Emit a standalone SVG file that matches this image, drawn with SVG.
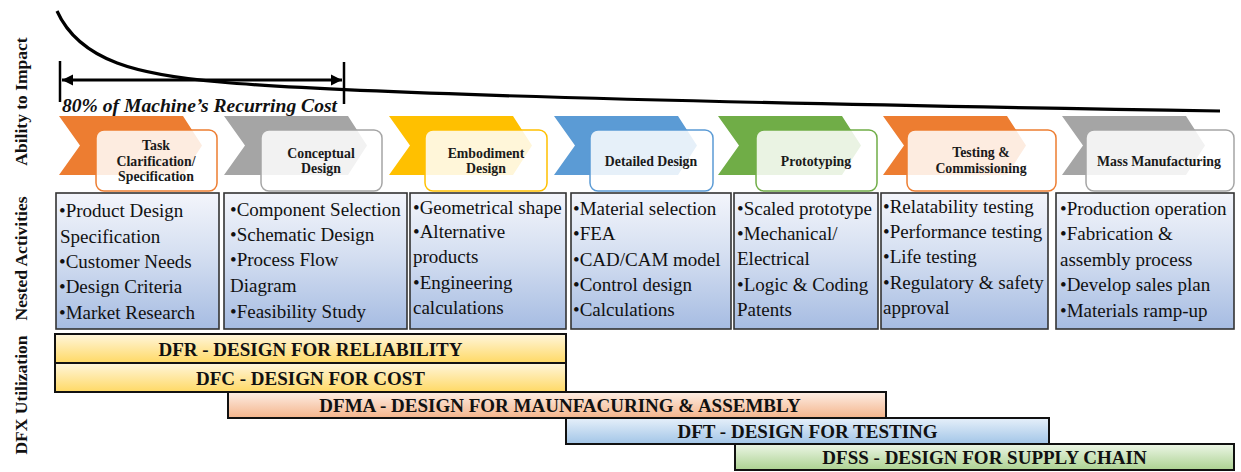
<svg xmlns="http://www.w3.org/2000/svg" width="1241" height="472" viewBox="0 0 1241 472">
  <style>
    .axis { font-family: "Liberation Serif", "Times New Roman", serif; font-weight: bold; font-size: 17.5px; fill: #111; }
    .stage { font-family: "Liberation Serif", "Times New Roman", serif; font-weight: bold; font-size: 13.8px; fill: #1a1a1a; text-anchor: middle; }
    .act { font-family: "Liberation Serif", "Times New Roman", serif; font-size: 19px; fill: #111; }
    .bar { font-family: "Liberation Serif", "Times New Roman", serif; font-weight: bold; font-size: 19px; fill: #111; text-anchor: middle; }
    .cost { font-family: "Liberation Serif", "Times New Roman", serif; font-weight: bold; font-style: italic; font-size: 19.6px; fill: #111; }
    .card { fill: #ffffff; fill-opacity: 0.85; stroke-width: 1.5; }
    .actbox { fill: url(#actGrad); stroke: #333333; stroke-width: 1.6; }
    .dfx { stroke: #111; stroke-width: 2; }
  </style>
  <defs>
    <linearGradient id="actGrad" x1="0" y1="0" x2="0" y2="1">
      <stop offset="0" stop-color="#f3f5fb"/>
      <stop offset="0.45" stop-color="#d5dff1"/>
      <stop offset="1" stop-color="#a6bce2"/>
    </linearGradient>
    <linearGradient id="gYellow" x1="0" y1="0" x2="0" y2="1">
      <stop offset="0" stop-color="#fff6dc"/>
      <stop offset="1" stop-color="#ffd965"/>
    </linearGradient>
    <linearGradient id="gOrange" x1="0" y1="0" x2="0" y2="1">
      <stop offset="0" stop-color="#fdeee5"/>
      <stop offset="1" stop-color="#f4b48a"/>
    </linearGradient>
    <linearGradient id="gBlue" x1="0" y1="0" x2="0" y2="1">
      <stop offset="0" stop-color="#e6f0fa"/>
      <stop offset="1" stop-color="#a2c5e7"/>
    </linearGradient>
    <linearGradient id="gGreen" x1="0" y1="0" x2="0" y2="1">
      <stop offset="0" stop-color="#edf6e7"/>
      <stop offset="1" stop-color="#acd291"/>
    </linearGradient>
    <marker id="head" markerUnits="userSpaceOnUse" markerWidth="12" markerHeight="12" refX="11" refY="6" orient="auto-start-reverse">
      <path d="M0,0.5 L11,6 L0,11.5 Z" fill="#000"/>
    </marker>
    <path id="chev" d="M0,0 L124,0 L143,29.5 L124,59 L0,59 L21,29.5 Z"/>
  </defs>

  <!-- row labels -->
  <g id="row-labels">
    <text class="axis" transform="translate(27,101.5) rotate(-90)" text-anchor="middle">Ability to Impact</text>
    <text class="axis" transform="translate(27,258.5) rotate(-90)" text-anchor="middle">Nested Activities</text>
    <text class="axis" transform="translate(27,395) rotate(-90)" text-anchor="middle">DFX Utilization</text>
  </g>

  <!-- impact curve and cost span -->
  <g id="connectors" fill="none" stroke="#000">
    <path id="impact-curve" d="M57,11 C80,62 140,75 220,82 C330,92 650,102 1220,111" stroke-width="3.2"/>
    <line x1="60" y1="61" x2="60" y2="102" stroke-width="2.5"/>
    <line x1="344" y1="62" x2="344" y2="104" stroke-width="2.5"/>
    <line x1="62" y1="80" x2="342" y2="80" stroke-width="3" marker-start="url(#head)" marker-end="url(#head)"/>
  </g>
  <text class="cost" x="62" y="112">80% of Machine’s Recurring Cost</text>

  <!-- process stages -->
  <g id="stage-task">
    <use href="#chev" x="59" y="116" fill="#ed7d31"/>
    <rect class="card" x="96" y="130" width="121" height="61" rx="8" stroke="#ed7d31"/>
    <text class="stage" x="156" y="150">Task</text>
    <text class="stage" x="156" y="166">Clarification/</text>
    <text class="stage" x="156" y="181">Specification</text>
  </g>
  <g id="stage-conceptual">
    <use href="#chev" x="224" y="116" fill="#a5a5a5"/>
    <rect class="card" x="261" y="130" width="121" height="61" rx="8" stroke="#a5a5a5"/>
    <text class="stage" x="321" y="158">Conceptual</text>
    <text class="stage" x="321" y="173">Design</text>
  </g>
  <g id="stage-embodiment">
    <use href="#chev" x="389" y="116" fill="#ffc000"/>
    <rect class="card" x="425" y="130" width="122" height="61" rx="8" stroke="#ffc000"/>
    <text class="stage" x="486" y="158">Embodiment</text>
    <text class="stage" x="486" y="173">Design</text>
  </g>
  <g id="stage-detailed">
    <use href="#chev" x="554" y="116" fill="#5b9bd5"/>
    <rect class="card" x="590" y="130" width="123" height="61" rx="8" stroke="#5b9bd5"/>
    <text class="stage" x="651" y="166">Detailed Design</text>
  </g>
  <g id="stage-prototyping">
    <use href="#chev" x="718" y="116" fill="#70ad47"/>
    <rect class="card" x="756" y="130" width="121" height="61" rx="8" stroke="#70ad47"/>
    <text class="stage" x="816" y="166">Prototyping</text>
  </g>
  <g id="stage-testing">
    <use href="#chev" x="883" y="116" fill="#ed7d31"/>
    <rect class="card" x="907" y="130" width="149" height="61" rx="8" stroke="#ed7d31"/>
    <text class="stage" x="981" y="157">Testing &amp;</text>
    <text class="stage" x="981" y="173">Commissioning</text>
  </g>
  <g id="stage-mass">
    <use href="#chev" x="1062" y="116" fill="#a5a5a5"/>
    <rect class="card" x="1086" y="130" width="148" height="61" rx="8" stroke="#a5a5a5"/>
    <text class="stage" x="1159" y="166">Mass Manufacturing</text>
  </g>

  <!-- nested activities -->
  <g id="act-task">
    <rect class="actbox" x="56" y="193" width="163" height="136"/>
    <text class="act" x="59" y="217">•Product Design</text>
    <text class="act" x="60" y="243">Specification</text>
    <text class="act" x="59" y="268">•Customer Needs</text>
    <text class="act" x="59" y="293">•Design Criteria</text>
    <text class="act" x="59" y="319">•Market Research</text>
  </g>
  <g id="act-conceptual">
    <rect class="actbox" x="224" y="193" width="183" height="136"/>
    <text class="act" x="230" y="216">•Component Selection</text>
    <text class="act" x="230" y="241">•Schematic Design</text>
    <text class="act" x="230" y="266">•Process Flow</text>
    <text class="act" x="230" y="292">Diagram</text>
    <text class="act" x="230" y="318">•Feasibility Study</text>
  </g>
  <g id="act-embodiment">
    <rect class="actbox" x="410" y="193" width="156" height="136"/>
    <text class="act" x="413" y="214">•Geometrical shape</text>
    <text class="act" x="413" y="238">•Alternative</text>
    <text class="act" x="413" y="263">products</text>
    <text class="act" x="413" y="289">•Engineering</text>
    <text class="act" x="413" y="314">calculations</text>
  </g>
  <g id="act-detailed">
    <rect class="actbox" x="571" y="193" width="160" height="136"/>
    <text class="act" x="573" y="215">•Material selection</text>
    <text class="act" x="573" y="240">•FEA</text>
    <text class="act" x="573" y="266">•CAD/CAM model</text>
    <text class="act" x="573" y="291">•Control design</text>
    <text class="act" x="573" y="316">•Calculations</text>
  </g>
  <g id="act-prototyping">
    <rect class="actbox" x="734" y="193" width="144" height="136"/>
    <text class="act" x="737" y="215">•Scaled prototype</text>
    <text class="act" x="737" y="240">•Mechanical/</text>
    <text class="act" x="737" y="265">Electrical</text>
    <text class="act" x="737" y="291">•Logic &amp; Coding</text>
    <text class="act" x="737" y="316">Patents</text>
  </g>
  <g id="act-testing">
    <rect class="actbox" x="881" y="193" width="167" height="136"/>
    <text class="act" x="883" y="213">•Relatability testing</text>
    <text class="act" x="883" y="238">•Performance testing</text>
    <text class="act" x="883" y="263">•Life testing</text>
    <text class="act" x="883" y="289">•Regulatory &amp; safety</text>
    <text class="act" x="883" y="314">approval</text>
  </g>
  <g id="act-mass">
    <rect class="actbox" x="1056" y="193" width="178" height="136"/>
    <text class="act" x="1060" y="215">•Production operation</text>
    <text class="act" x="1060" y="240">•Fabrication &amp;</text>
    <text class="act" x="1060" y="266">assembly process</text>
    <text class="act" x="1060" y="291">•Develop sales plan</text>
    <text class="act" x="1060" y="317">•Materials ramp-up</text>
  </g>

  <!-- DFX bars -->
  <g id="dfr">
    <rect class="dfx" x="55" y="334" width="511" height="29" fill="url(#gYellow)"/>
    <text class="bar" x="310.5" y="356">DFR - DESIGN FOR RELIABILITY</text>
  </g>
  <g id="dfc">
    <rect class="dfx" x="55" y="363" width="511" height="29" fill="url(#gYellow)"/>
    <text class="bar" x="310.5" y="385">DFC - DESIGN FOR COST</text>
  </g>
  <g id="dfma">
    <rect class="dfx" x="228" y="392" width="658" height="26" fill="url(#gOrange)"/>
    <text class="bar" x="560" y="412">DFMA - DESIGN FOR MAUNFACURING &amp; ASSEMBLY</text>
  </g>
  <g id="dft">
    <rect class="dfx" x="566" y="418" width="483" height="26" fill="url(#gBlue)"/>
    <text class="bar" x="807.5" y="438">DFT - DESIGN FOR TESTING</text>
  </g>
  <g id="dfss">
    <rect class="dfx" x="735" y="444" width="499" height="26" fill="url(#gGreen)"/>
    <text class="bar" x="984.5" y="464">DFSS - DESIGN FOR SUPPLY CHAIN</text>
  </g>
</svg>
